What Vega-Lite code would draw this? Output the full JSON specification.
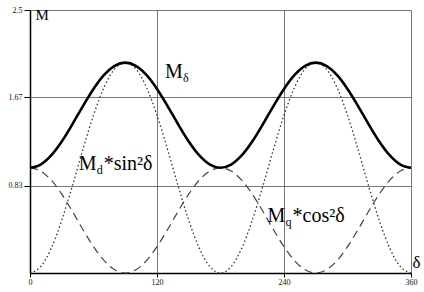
{
  "$schema": "https://vega.github.io/schema/vega-lite/v6.json",
  "width": 381,
  "height": 263,
  "autosize": {"type": "none"},
  "padding": {"left": 30, "top": 10, "right": 13, "bottom": 19},
  "background": "white",
  "config": {
    "view": {"stroke": null},
    "font": "Liberation Serif",
    "axisX": {
      "titleX": 382, "titleY": -6, "titleAlign": "left", "titleBaseline": "alphabetic",
      "titleFontSize": 17, "titleFontWeight": "normal", "titleFont": "Liberation Serif", "titleColor": "black",
      "labelFontSize": 8, "labelFont": "Liberation Serif", "labelColor": "#111", "labelPadding": 1,
      "labelFlush": false, "tickSize": 4, "tickColor": "black",
      "domainColor": "black", "domainWidth": 1.5, "gridColor": "#555", "gridWidth": 0.8
    },
    "axisY": {
      "titleAngle": 0, "titleX": 5, "titleY": 9, "titleAlign": "left", "titleBaseline": "alphabetic",
      "titleFontSize": 15, "titleFontWeight": "normal", "titleFont": "Liberation Serif", "titleColor": "black",
      "labelFontSize": 8, "labelFont": "Liberation Serif", "labelColor": "#111", "labelPadding": 2,
      "tickSize": 6, "tickColor": "black",
      "domainColor": "black", "domainWidth": 1.5, "gridColor": "#555", "gridWidth": 0.8
    }
  },
  "datasets": {
    "curves": [
      {"d": 0, "md": 0, "mq": 1, "m": 1},
      {"d": 10, "md": 0.060, "mq": 0.970, "m": 1.030},
      {"d": 20, "md": 0.234, "mq": 0.883, "m": 1.117},
      {"d": 30, "md": 0.500, "mq": 0.750, "m": 1.250},
      {"d": 40, "md": 0.826, "mq": 0.587, "m": 1.413},
      {"d": 50, "md": 1.174, "mq": 0.413, "m": 1.587},
      {"d": 60, "md": 1.500, "mq": 0.250, "m": 1.750},
      {"d": 70, "md": 1.766, "mq": 0.117, "m": 1.883},
      {"d": 80, "md": 1.940, "mq": 0.030, "m": 1.970},
      {"d": 90, "md": 2.000, "mq": 0.000, "m": 2.000},
      {"d": 100, "md": 1.940, "mq": 0.030, "m": 1.970},
      {"d": 110, "md": 1.766, "mq": 0.117, "m": 1.883},
      {"d": 120, "md": 1.500, "mq": 0.250, "m": 1.750},
      {"d": 130, "md": 1.174, "mq": 0.413, "m": 1.587},
      {"d": 140, "md": 0.826, "mq": 0.587, "m": 1.413},
      {"d": 150, "md": 0.500, "mq": 0.750, "m": 1.250},
      {"d": 160, "md": 0.234, "mq": 0.883, "m": 1.117},
      {"d": 170, "md": 0.060, "mq": 0.970, "m": 1.030},
      {"d": 180, "md": 0, "mq": 1, "m": 1},
      {"d": 190, "md": 0.060, "mq": 0.970, "m": 1.030},
      {"d": 200, "md": 0.234, "mq": 0.883, "m": 1.117},
      {"d": 210, "md": 0.500, "mq": 0.750, "m": 1.250},
      {"d": 220, "md": 0.826, "mq": 0.587, "m": 1.413},
      {"d": 230, "md": 1.174, "mq": 0.413, "m": 1.587},
      {"d": 240, "md": 1.500, "mq": 0.250, "m": 1.750},
      {"d": 250, "md": 1.766, "mq": 0.117, "m": 1.883},
      {"d": 260, "md": 1.940, "mq": 0.030, "m": 1.970},
      {"d": 270, "md": 2.000, "mq": 0.000, "m": 2.000},
      {"d": 280, "md": 1.940, "mq": 0.030, "m": 1.970},
      {"d": 290, "md": 1.766, "mq": 0.117, "m": 1.883},
      {"d": 300, "md": 1.500, "mq": 0.250, "m": 1.750},
      {"d": 310, "md": 1.174, "mq": 0.413, "m": 1.587},
      {"d": 320, "md": 0.826, "mq": 0.587, "m": 1.413},
      {"d": 330, "md": 0.500, "mq": 0.750, "m": 1.250},
      {"d": 340, "md": 0.234, "mq": 0.883, "m": 1.117},
      {"d": 350, "md": 0.060, "mq": 0.970, "m": 1.030},
      {"d": 360, "md": 0, "mq": 1, "m": 1}
    ],
    "labels": [
      {"d": 127.6, "v": 1.854, "main": "M", "sub": "δ", "rest": ""},
      {"d": 46.0, "v": 0.979, "main": "M", "sub": "d", "rest": "*sin²δ"},
      {"d": 224.5, "v": 0.485, "main": "M", "sub": "q", "rest": "*cos²δ"}
    ]
  },
  "layer": [
    {
      "data": {"name": "curves"},
      "mark": {"type": "line", "interpolate": "monotone", "color": "#333", "strokeWidth": 1.3, "strokeDash": [1.5, 2.5]},
      "encoding": {
        "x": {"field": "d", "type": "quantitative", "scale": {"domain": [0, 360], "nice": false}, "axis": {"values": [0, 120, 240, 360], "title": "δ", "grid": true}},
        "y": {"field": "md", "type": "quantitative", "scale": {"domain": [0, 2.5], "nice": false}, "axis": {"values": [0.83, 1.67, 2.5], "format": ".2~f", "title": "M", "grid": true}}
      }
    },
    {
      "data": {"name": "curves"},
      "mark": {"type": "line", "interpolate": "monotone", "color": "#444", "strokeWidth": 1.2, "strokeDash": [8, 5]},
      "encoding": {
        "x": {"field": "d", "type": "quantitative", "title": "δ"},
        "y": {"field": "mq", "type": "quantitative", "title": "M"}
      }
    },
    {
      "data": {"name": "curves"},
      "mark": {"type": "line", "interpolate": "monotone", "color": "black", "strokeWidth": 2.6},
      "encoding": {
        "x": {"field": "d", "type": "quantitative", "title": "δ"},
        "y": {"field": "m", "type": "quantitative", "title": "M"}
      }
    },
    {
      "data": {"name": "labels"},
      "mark": {"type": "text", "align": "left", "baseline": "alphabetic", "fontSize": 20, "font": "Liberation Serif", "color": "black"},
      "encoding": {
        "x": {"field": "d", "type": "quantitative", "title": "δ"},
        "y": {"field": "v", "type": "quantitative", "title": "M"},
        "text": {"field": "main"}
      }
    },
    {
      "data": {"name": "labels"},
      "mark": {"type": "text", "align": "left", "baseline": "alphabetic", "fontSize": 12, "font": "Liberation Serif", "color": "black", "dx": 18, "dy": 4},
      "encoding": {
        "x": {"field": "d", "type": "quantitative", "title": "δ"},
        "y": {"field": "v", "type": "quantitative", "title": "M"},
        "text": {"field": "sub"}
      }
    },
    {
      "data": {"name": "labels"},
      "mark": {"type": "text", "align": "left", "baseline": "alphabetic", "fontSize": 20, "font": "Liberation Serif", "color": "black", "dx": 25},
      "encoding": {
        "x": {"field": "d", "type": "quantitative", "title": "δ"},
        "y": {"field": "v", "type": "quantitative", "title": "M"},
        "text": {"field": "rest"}
      }
    }
  ]
}
